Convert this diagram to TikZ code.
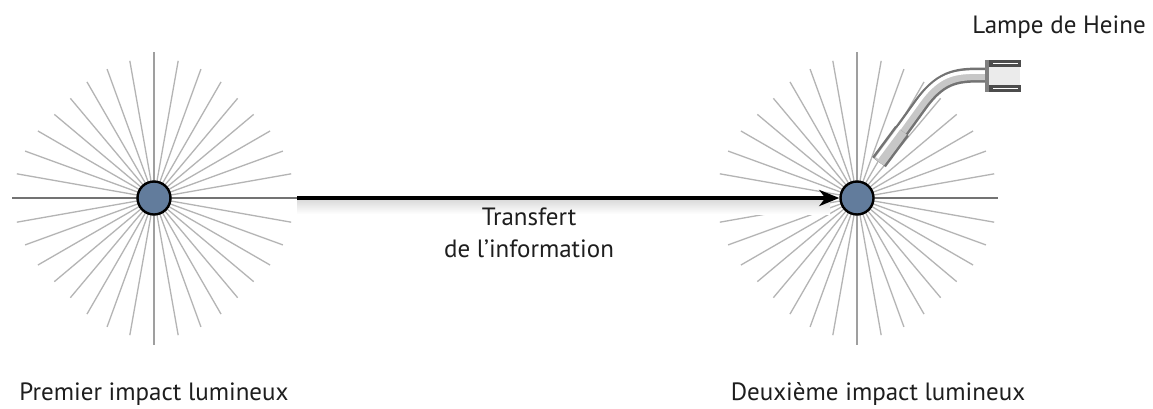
\documentclass[tikz,border=0pt]{standalone}
\usepackage{fontspec}
\setmainfont{PT Sans}
\usetikzlibrary{arrows.meta}
\definecolor{dotblue}{RGB}{98,124,156}
\definecolor{raygray}{RGB}{180,180,180}
\definecolor{axisgray}{RGB}{115,115,115}
\definecolor{txt}{RGB}{30,30,30}
\begin{document}
\begin{tikzpicture}[x=1pt,y=-1pt,
  ray/.style={raygray,line width=1.3pt},
  vray/.style={gray!75,line width=1.4pt},
  axisline/.style={axisgray,line width=1.6pt},
  impact/.style={circle,draw=black,line width=2.4pt,fill=dotblue,minimum size=33pt,inner sep=0pt},
  lbl/.style={font=\fontsize{25}{30}\selectfont,text=txt,anchor=base,inner sep=0pt},
  transfer/.style={line width=4.5pt,-{Stealth[length=20pt,width=16pt,inset=6pt]}},
  tubeout/.style={black!55,line width=15pt},
  tubein/.style={black!22,line width=10pt},
  tubehi/.style={white,line width=3.5pt}]
\useasboundingbox (0,0) rectangle (1153,408);
\fill[white] (0,0) rectangle (1153,408);

% ---------- first impact ----------
\coordinate (p1) at (154,198);
\foreach \a in {10,20,...,80,100,110,...,170,190,200,...,260,280,290,...,350}{
  \pgfmathsetmacro\L{128+12*abs(cos(2*\a))}
  \draw[ray] (p1) -- ++(\a:\L);
}
\draw[vray] (p1) ++(0,-146) -- ++(0,293);
\coordinate (a1) at (12,198);
\coordinate (arrowstart) at (297,198);
\draw[axisline] (a1) -- (arrowstart);
\node[impact] (c1) at (p1) {};

% ---------- second impact ----------
\coordinate (p2) at (857,198);
\foreach \a in {10,20,...,80,100,110,...,170,190,200,...,260,280,290,...,350}{
  \pgfmathsetmacro\L{128+12*abs(cos(2*\a))}
  \draw[ray] (p2) -- ++(\a:\L);
}
\draw[vray] (p2) ++(0,-146) -- ++(0,293);
\coordinate (a2) at (998,198);
\draw[axisline] (p2) -- (a2);
\node[impact] (c2) at (p2) {};

% ---------- transfer arrow ----------
\shade[top color=black!14,bottom color=white] (297,200) rectangle (830,214);
\draw[transfer] (arrowstart) -- (c2.west);

% ---------- lamp ----------
\draw[tubeout] (879,162) -- (921,104) .. controls (943,74) and (960,75) .. (988,75);
\draw[tubein] (879,162) -- (921,104) .. controls (943,74) and (960,75) .. (988,75);
\draw[tubehi] (878,158) -- (919,101) .. controls (941,71) and (958,72) .. (988,72);
\draw[tubeout,line width=17pt] (879,162) -- (902,131);
\draw[tubein,line width=12pt] (879,162) -- (902,131);
\draw[tubehi,line width=3pt] (877,158) -- (900,127);
\fill[black!8] (987,62) rectangle (1020,90);
\fill[black!70] (985,60) rectangle (1021,67);
\fill[black!70] (985,85) rectangle (1021,92);
\fill[black!50] (985,60) rectangle (989,92);
\draw[white,line width=0.8pt] (993,63) -- (1018,63);
\draw[white,line width=0.8pt] (993,88) -- (1018,88);

% ---------- labels ----------
\node[lbl] (lampe) at (1059,33) {Lampe de Heine};
\node[lbl] (t1) at (529,225.7) {Transfert};
\node[lbl] (t2) at (529,257.7) {de l’information};
\node[lbl] (l1) at (154,400) {Premier impact lumineux};
\node[lbl] (l2) at (878,400.5) {Deuxième impact lumineux};
\end{tikzpicture}
\end{document}
